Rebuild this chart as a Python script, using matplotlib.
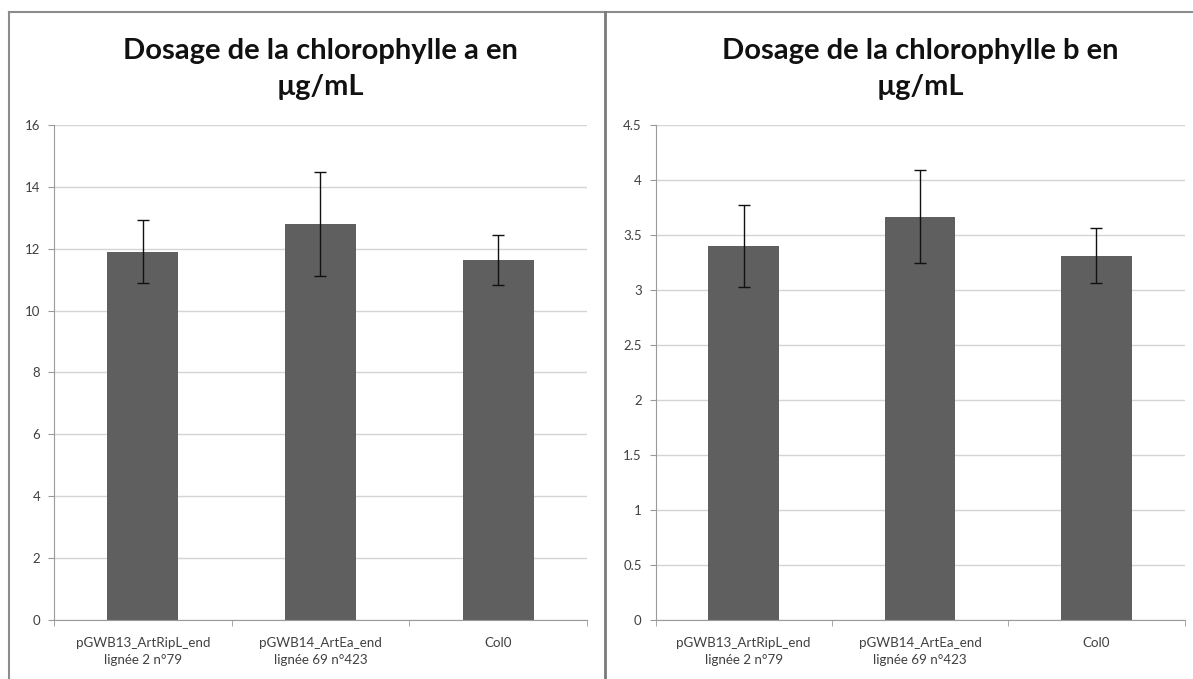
import matplotlib
matplotlib.use("Agg")
import matplotlib.pyplot as plt
from matplotlib.lines import Line2D
import numpy as np

plt.rcParams['font.family'] = ['Lato', 'DejaVu Sans']

categories = ["pGWB13_ArtRipL_end\nlignée 2 n°79",
              "pGWB14_ArtEa_end\nlignée 69 n°423",
              "Col0"]

chl_a = [11.9, 12.8, 11.63]
chl_a_err = [1.02, 1.68, 0.8]

chl_b = [3.40, 3.667, 3.31]
chl_b_err = [0.375, 0.42, 0.25]

titles = ["Dosage de la chlorophylle a en\nµg/mL",
          "Dosage de la chlorophylle b en\nµg/mL"]
a_ticks = np.arange(0, 17, 2)
b_ticks = [0, 0.5, 1, 1.5, 2, 2.5, 3, 3.5, 4, 4.5]
b_labels = ["0", "0.5", "1", "1.5", "2", "2.5", "3", "3.5", "4", "4.5"]

fig = plt.figure(figsize=(11.93, 6.79), dpi=100)
fig.patch.set_facecolor("white")

ax1 = fig.add_axes([0.0453, 0.0869, 0.4467, 0.7291])
ax2 = fig.add_axes([0.5495, 0.0869, 0.4435, 0.7291])


def draw(ax, vals, errs, ticks, labels, ymax, title):
    x = np.arange(len(vals))
    ax.bar(x, vals, width=0.4, color="#5f5f5f", zorder=2)
    ax.errorbar(x, vals, yerr=errs, fmt="none", ecolor="#111111",
                elinewidth=1, capsize=4, capthick=1, zorder=3)
    ax.set_xlim(-0.5, len(vals) - 0.5)
    ax.set_ylim(0, ymax)
    ax.set_yticks(ticks)
    ax.set_yticklabels(labels)
    ax.yaxis.grid(True, color="#d4d4d4", linewidth=1)
    ax.set_axisbelow(True)
    ax.set_xticks(x)
    ax.set_xticklabels(categories, linespacing=1.55)
    # category separators as small ticks under the axis
    ax.set_xticks(np.arange(-0.5, len(vals), 1), minor=True)
    ax.tick_params(axis="x", which="major", length=0, pad=12,
                   labelsize=9.6, colors="#404040")
    ax.tick_params(axis="x", which="minor", length=4, color="#9a9a9a")
    ax.tick_params(axis="y", length=4, color="#9a9a9a", pad=6,
                   labelsize=9.5, labelcolor="#404040")
    for s in ["top", "right"]:
        ax.spines[s].set_visible(False)
    for s in ["left", "bottom"]:
        ax.spines[s].set_color("#9a9a9a")
    ax.set_title(title, fontsize=21, fontweight="bold", color="#111111",
                 pad=21.5, linespacing=1.5)


draw(ax1, chl_a, chl_a_err, a_ticks, [str(t) for t in a_ticks], 16, titles[0])
draw(ax2, chl_b, chl_b_err, b_ticks, b_labels, 4.5, titles[1])

# chart frames
W, H = 1193, 679
frame = "#8c8c8c"
fig.add_artist(Line2D([9 / W, 1], [1 - 12 / H, 1 - 12 / H], color=frame, lw=1.5,
                      transform=fig.transFigure))
fig.add_artist(Line2D([9 / W, 9 / W], [0, 1 - 12 / H], color=frame, lw=1.5,
                      transform=fig.transFigure))
fig.add_artist(Line2D([605 / W, 605 / W], [0, 1 - 12 / H], color="#7a7a7a", lw=2,
                      transform=fig.transFigure))

fig.savefig("out.png", dpi=100, facecolor="white")
